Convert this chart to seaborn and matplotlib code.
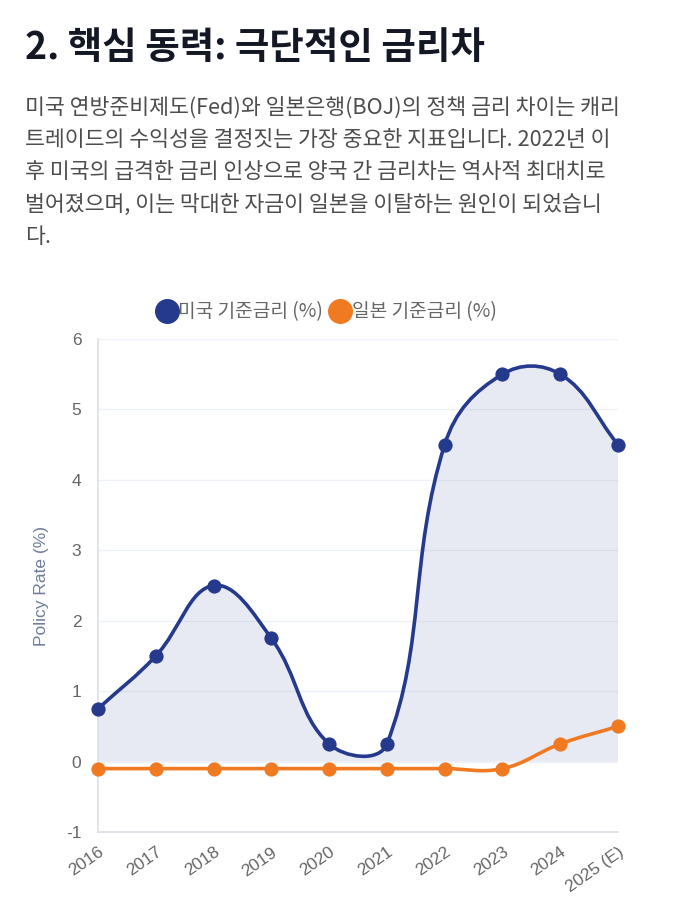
import numpy as np
import matplotlib
matplotlib.use("Agg")
import matplotlib.pyplot as plt
import seaborn as sns
from matplotlib.path import Path
from matplotlib.patches import PathPatch
from matplotlib.lines import Line2D

# ─── Data ────────────────────────────────────────────────────────────────────
years = ["2016", "2017", "2018", "2019", "2020", "2021", "2022", "2023", "2024", "2025 (E)"]
us_rate = [0.75, 1.5, 2.5, 1.75, 0.25, 0.25, 4.5, 5.5, 5.5, 4.5]
jp_rate = [-0.1, -0.1, -0.1, -0.1, -0.1, -0.1, -0.1, -0.1, 0.25, 0.5]

title = "2. 핵심 동력: 극단적인 금리차"
para_lines = [
    "미국 연방준비제도(Fed)와 일본은행(BOJ)의 정책 금리 차이는 캐리",
    "트레이드의 수익성을 결정짓는 가장 중요한 지표입니다. 2022년 이",
    "후 미국의 급격한 금리 인상으로 양국 간 금리차는 역사적 최대치로",
    "벌어졌으며, 이는 막대한 자금이 일본을 이탈하는 원인이 되었습니",
    "다.",
]
us_label = "미국 기준금리 (%)"
jp_label = "일본 기준금리 (%)"

NAVY = "#253a8c"
ORANGE = "#f07a22"
GREY = "#666666"
LATIN = ["Liberation Sans", "DejaVu Sans"]

sns.set_theme(style="white")
plt.rcParams["font.family"] = ["Noto Sans CJK KR", "DejaVu Sans"]

fig = plt.figure(figsize=(6.75, 9.17), dpi=100)
ax = fig.add_axes([98 / 675, 1 - 832 / 917, 520 / 675, 493 / 917])

x = np.arange(len(years))
ax.set_xlim(0, len(years) - 1)
ax.set_ylim(-1, 6)


def spline_path(xs, ys, tension=0.4):
    """Chart.js style bezier curve through points (control pts in pixel space)."""
    pts = ax.transData.transform(np.column_stack([xs, ys]))
    n = len(pts)
    cps = []
    for i in range(n):
        prev = pts[max(i - 1, 0)]
        cur = pts[i]
        nxt = pts[min(i + 1, n - 1)]
        d01 = np.hypot(*(cur - prev))
        d12 = np.hypot(*(nxt - cur))
        tot = d01 + d12
        s01 = d01 / tot if tot else 0
        s12 = d12 / tot if tot else 0
        fa, fb = tension * s01, tension * s12
        cps.append((cur - fa * (nxt - prev), cur + fb * (nxt - prev)))
    verts = [pts[0]]
    codes = [Path.MOVETO]
    for i in range(1, n):
        verts += [cps[i - 1][1], cps[i][0], pts[i]]
        codes += [Path.CURVE4] * 3
    inv = ax.transData.inverted()
    return inv.transform(np.array(verts)), codes


us_verts, us_codes = spline_path(x, us_rate)
jp_verts, jp_codes = spline_path(x, jp_rate)

# fill under US curve down to 0
fill_verts = np.vstack([us_verts, [[x[-1], 0], [x[0], 0], [x[0], us_rate[0]]]])
fill_codes = us_codes + [Path.LINETO, Path.LINETO, Path.CLOSEPOLY]
ax.add_patch(PathPatch(Path(fill_verts, fill_codes), facecolor=NAVY, alpha=0.1,
                       edgecolor="none", zorder=1))

ax.add_patch(PathPatch(Path(us_verts, us_codes), facecolor="none", edgecolor=NAVY,
                       lw=2.6, zorder=3, capstyle="round"))
ax.add_patch(PathPatch(Path(jp_verts, jp_codes), facecolor="none", edgecolor=ORANGE,
                       lw=2.6, zorder=3, capstyle="round"))

sns.scatterplot(x=x, y=us_rate, color=NAVY, s=105, edgecolor=NAVY, linewidth=0,
                zorder=4, ax=ax, clip_on=False)
sns.scatterplot(x=x, y=jp_rate, color=ORANGE, s=105, edgecolor=ORANGE, linewidth=0,
                zorder=4, ax=ax, clip_on=False)

# axes styling
ax.set_xticks(x)
ax.set_xticklabels(years, rotation=35, ha="right", rotation_mode="anchor",
                   fontsize=12.5, color=GREY, family=LATIN)
ax.set_yticks(range(-1, 7))
ax.set_yticklabels([str(v) for v in range(-1, 7)], fontsize=12.5, color=GREY,
                   family=LATIN)
ax.tick_params(axis="y", length=8, color="#e8ecf3", pad=4)
ax.tick_params(axis="x", length=0, pad=9)
ax.grid(axis="y", color="#edf1f7", lw=1)
ax.grid(axis="x", visible=False)
for side in ["top", "right"]:
    ax.spines[side].set_visible(False)
ax.spines["left"].set_color("#dde1e8")
ax.spines["bottom"].set_color("#dde1e8")
ax.set_ylabel("Policy Rate (%)", fontsize=12.5, color="#6f7d9a",
              family=LATIN, labelpad=12)

# legend
handles = [
    Line2D([], [], marker="o", ls="none", markersize=17, color=NAVY),
    Line2D([], [], marker="o", ls="none", markersize=17, color=ORANGE),
]
fig.legend(handles, [us_label, jp_label], loc="center", ncol=2,
           bbox_to_anchor=(326 / 675, 1 - 312 / 917), frameon=False,
           fontsize=13.8, labelcolor=GREY, handletextpad=0.0, columnspacing=0.3,
           handlelength=1.2)

# title + paragraph
fig.text(25 / 675, 1 - 48 / 917, title, fontsize=27, fontweight="bold",
         color="#141824", va="center", ha="left")
for i, line in enumerate(para_lines):
    fig.text(25 / 675, 1 - (108 + 32.2 * i) / 917, line, fontsize=15.6,
             color="#4d4d4d", va="center", ha="left")

fig.savefig("out.png", dpi=100)
